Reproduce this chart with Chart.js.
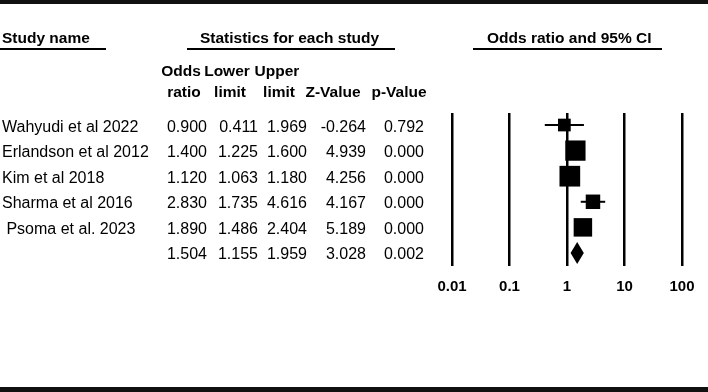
<!DOCTYPE html>
<html>
<head>
<meta charset="utf-8">
<script src="https://cdn.jsdelivr.net/npm/chart.js@4.4.1/dist/chart.umd.min.js"></script>
<style>
  html, body { margin: 0; padding: 0; background: #fff; }
  #wrap { position: relative; width: 708px; height: 392px; }
</style>
</head>
<body>
<div id="wrap"><canvas id="forestChart"></canvas></div>
<script>
// Study rows
const studyNames = [
  "Wahyudi et al 2022",
  "Erlandson et al 2012",
  "Kim et al 2018",
  "Sharma et al 2016",
  " Psoma et al. 2023",
];
const oddsRatio = [0.9, 1.4, 1.12, 2.83, 1.89];
const lowerLimit = [0.411, 1.225, 1.063, 1.735, 1.486];
const upperLimit = [1.969, 1.6, 1.18, 4.616, 2.404];
const zValue = [-0.264, 4.939, 4.256, 4.167, 5.189];
const pValue = [0.792, 0.0, 0.0, 0.0, 0.0];
// relative weight (%) estimated from the square sizes
const relWeight = [10.4, 26.5, 27.6, 13.5, 22.0];

// pooled row: OR, lower, upper, Z, p
const pooledRow = [1.504, 1.155, 1.959, 3.028, 0.002];

const xTicks = [0.01, 0.1, 1, 10, 100];
const xTickLabels = ["0.01", "0.1", "1", "10", "100"];

const FONT = '"Liberation Sans", Arial, sans-serif';
const pooledIndex = studyNames.length;

// square side grows with sqrt of weight
function squareRadius(w) {
  const side = 3.94 * Math.sqrt(w);
  return side / Math.SQRT2;
}

const squareData = oddsRatio.map((v, i) => ({ x: v, y: i }));

// one short line per study for the CI
const ciDatasets = studyNames.map((_, i) => ({
  type: "line",
  data: [
    { x: lowerLimit[i], y: i },
    { x: upperLimit[i], y: i },
  ],
  borderColor: "#000",
  borderWidth: 2,
  pointRadius: 0,
  fill: false,
}));

// Draws the table on the left, the header rules and the pooled diamond
const forestTable = {
  id: "forestTable",
  afterDraw(chart) {
    const ctx = chart.ctx;
    const xs = chart.scales.x;
    const ys = chart.scales.y;
    ctx.save();

    // thick page rules
    ctx.fillStyle = "#111";
    ctx.fillRect(0, 0, 708, 4);
    ctx.fillRect(0, 387, 708, 5);

    ctx.fillStyle = "#000";
    ctx.textBaseline = "alphabetic";
    ctx.textAlign = "left";
    ctx.font = "bold 15.5px " + FONT;
    ctx.fillText("Study name", 2, 43);
    ctx.fillText("Statistics for each study", 200, 43);
    ctx.fillText("Odds ratio and 95% CI", 487, 43);
    ctx.fillRect(0, 48, 106, 2);
    ctx.fillRect(187, 48, 208, 2);
    ctx.fillRect(473, 48, 189, 2);

    // column headers, centred over their columns
    ctx.textAlign = "center";
    ctx.fillText("Odds", 181, 76);
    ctx.fillText("Lower", 227, 76);
    ctx.fillText("Upper", 277, 76);
    ctx.fillText("ratio", 184, 97);
    ctx.fillText("limit", 230, 97);
    ctx.fillText("limit", 279, 97);
    ctx.fillText("Z-Value", 333, 97);
    ctx.fillText("p-Value", 399, 97);

    // rows
    const colRight = [207, 258, 307, 366, 424];
    ctx.font = "16px " + FONT;
    const drawNums = (vals, yPix) => {
      ctx.textAlign = "right";
      vals.forEach((v, c) => ctx.fillText(v.toFixed(3), colRight[c], yPix));
    };
    studyNames.forEach((name, i) => {
      const yPix = ys.getPixelForValue(i) + 6.5;
      ctx.textAlign = "left";
      ctx.fillText(name, 2, yPix);
      drawNums(
        [oddsRatio[i], lowerLimit[i], upperLimit[i], zValue[i], pValue[i]],
        yPix
      );
    });
    drawNums(pooledRow, ys.getPixelForValue(pooledIndex) + 6.5);

    // pooled diamond
    const cy = ys.getPixelForValue(pooledIndex);
    const xl = xs.getPixelForValue(pooledRow[1]);
    const xm = xs.getPixelForValue(pooledRow[0]);
    const xr = xs.getPixelForValue(pooledRow[2]);
    ctx.beginPath();
    ctx.moveTo(xl, cy);
    ctx.lineTo(xm, cy - 11);
    ctx.lineTo(xr, cy);
    ctx.lineTo(xm, cy + 11);
    ctx.closePath();
    ctx.fill();

    ctx.restore();
  },
};

new Chart(document.getElementById("forestChart"), {
  type: "scatter",
  data: {
    datasets: [
      {
        data: squareData,
        pointStyle: "rect",
        pointRadius: relWeight.map(squareRadius),
        pointHoverRadius: relWeight.map(squareRadius),
        backgroundColor: "#000",
        borderColor: "#000",
        borderWidth: 0,
      },
      ...ciDatasets,
    ],
  },
  options: {
    responsive: true,
    maintainAspectRatio: false,
    animation: false,
    layout: { padding: { left: 452, right: 26, top: 113, bottom: 84 } },
    plugins: {
      legend: { display: false },
      tooltip: { enabled: false },
    },
    scales: {
      x: {
        type: "logarithmic",
        min: xTicks[0],
        max: xTicks[xTicks.length - 1],
        afterBuildTicks: (axis) => {
          axis.ticks = xTicks.map((v) => ({ value: v }));
        },
        grid: { color: "#000", lineWidth: 2.5, drawTicks: false },
        border: { display: false },
        ticks: {
          color: "#000",
          padding: 12,
          font: { family: FONT, size: 15, weight: "bold" },
          callback: (v) => {
            const k = xTicks.indexOf(v);
            return k >= 0 ? xTickLabels[k] : "";
          },
        },
      },
      y: {
        type: "linear",
        reverse: true,
        min: -0.47,
        max: 5.51,
        display: false,
      },
    },
  },
  plugins: [forestTable],
});
</script>
</body>
</html>
